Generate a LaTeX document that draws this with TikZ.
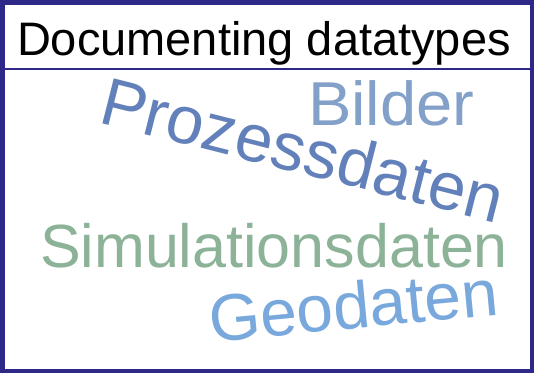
\documentclass[tikz,border=0pt]{standalone}
\usepackage{fontspec}
\setmainfont{Liberation Sans}
\definecolor{framecol}{RGB}{46,40,136}
\definecolor{procblue}{RGB}{98,128,186}
\definecolor{imgblue}{RGB}{130,160,200}
\definecolor{simgreen}{RGB}{140,178,152}
\definecolor{geoblue}{RGB}{120,168,220}
\tikzset{
  word/.style={anchor=base west, inner sep=0pt, outer sep=0pt},
  frameline/.style={draw=framecol, line width=#1},
}
\begin{document}
\begin{tikzpicture}[x=1pt,y=-1pt]
\useasboundingbox (0,0) rectangle (534,373);
\fill[white] (0,0) rectangle (534,373);
% outer frame and title rule
\draw[frameline=4.5pt] (2.25,2.25) rectangle (531.75,370.75);
\coordinate (ruleL) at (2,69);
\coordinate (ruleR) at (532,69);
\draw[frameline=2.5pt] (ruleL) -- (ruleR);
% title
\node[word, font=\fontsize{47}{50}\selectfont] (title) at (17,55) {Documenting datatypes};
% word cloud
\node[word, text=procblue, rotate=-14.2, font=\fontsize{67.5}{70}\selectfont] (proc) at (97,122) {Prozessdaten};
\node[word, text=imgblue, xscale=1.05, font=\fontsize{62}{66}\selectfont] (img) at (308,125) {Bilder};
\node[word, text=simgreen, font=\fontsize{61}{65}\selectfont] (sim) at (40,267) {Simulationsdaten};
\node[word, text=geoblue, rotate=5.4, font=\fontsize{66}{70}\selectfont] (geo) at (211,342) {Geodaten};
\end{tikzpicture}
\end{document}
